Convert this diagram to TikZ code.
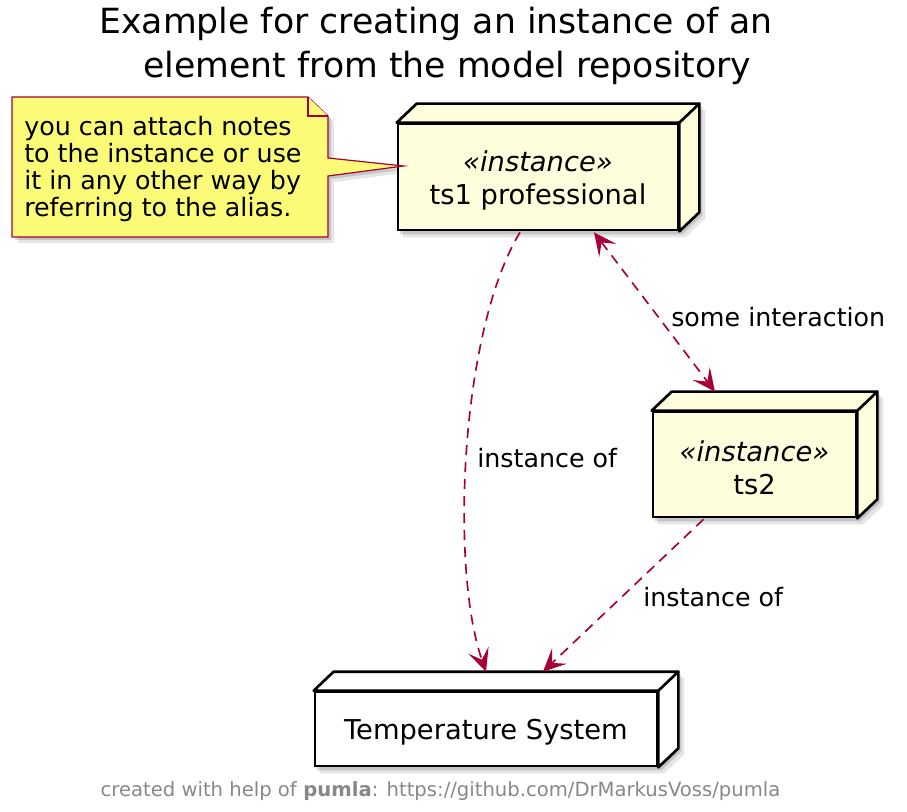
\documentclass[tikz,border=0pt]{standalone}
\usepackage{fontspec}
\setmainfont{DejaVu Sans}
\usetikzlibrary{arrows.meta,calc}
\definecolor{plred}{HTML}{A80036}
\definecolor{notefill}{HTML}{FBFB77}
\definecolor{nodefill}{HTML}{FEFEDC}
\definecolor{footgray}{HTML}{888888}
\pgfdeclarelayer{bg}
\pgfsetlayers{bg,main}
\newcommand\nodeextrude[2]{%
  \filldraw[fill=#2,draw=black,line width=2pt,line join=round]
    (#1.north west) -- ($(#1.north west)+(20,-19)$) -- ($(#1.north east)+(20,-19)$)
    -- ($(#1.south east)+(20,-19)$) -- (#1.south east) -- (#1.north east) -- cycle;
  \draw[line width=2pt,line cap=round] (#1.north east) -- ($(#1.north east)+(20,-19)$);
}
\newcommand\nodeshadow[1]{%
  \foreach \s/\o in {3/0.14,6/0.10}{
  \fill[black,opacity=\o]
    ($(#1.north west)+(\s,\s)$) -- ($(#1.north west)+(20+\s,-19+\s)$) -- ($(#1.north east)+(20+\s,-19+\s)$)
    -- ($(#1.south east)+(20+\s,-19+\s)$) -- ($(#1.south east)+(\s,\s)$) -- ($(#1.south west)+(\s,\s)$) -- cycle;}
}
\begin{document}
\begin{tikzpicture}[x=0.75pt,y=-0.75pt,
  box/.style={draw=black,line width=2pt,inner sep=0pt},
  boxtext/.style={inner sep=0pt,align=center,font=\fontsize{20.5}{24.75}\selectfont},
  conn/.style={draw=plred,line width=1.25pt,dash pattern=on 7.5pt off 5.25pt},
  headtip/.style={-{Stealth[length=17pt,width=16pt,inset=7.5pt]}},
  bothtip/.style={{Stealth[length=17pt,width=16pt,inset=7.5pt]}-{Stealth[length=17pt,width=16pt,inset=7.5pt]}},
  lbl/.style={anchor=west,inner sep=0pt,font=\fontsize{19}{22}\selectfont},
  titlefont/.style={inner sep=0pt,font=\fontsize{26}{33}\selectfont}
]
\useasboundingbox (0,0) rectangle (907,812);

% title
\node[titlefont] (title1) at (436,24) {Example for creating an instance of an};
\node[titlefont] (title2) at (447.5,68) {element from the model repository};

% nodes
\node[box,fill=nodefill,minimum width=210pt,minimum height=79.5pt] (ts1) at (538,177) {};
\node[box,fill=nodefill,minimum width=152.25pt,minimum height=78.75pt] (ts2) at (754.5,464.5) {};
\node[box,fill=white,minimum width=256.5pt,minimum height=55.5pt] (temp) at (486,729) {};
\nodeextrude{ts1}{nodefill}
\nodeextrude{ts2}{nodefill}
\nodeextrude{temp}{white}
\node[boxtext] (ts1text) at ($(ts1.center)+(0,3.5)$) {\textit{«instance»}\\ts1 professional};
\node[boxtext] (ts2text) at ($(ts2.center)+(0,3.5)$) {\textit{«instance»}\\ts2};
\node[boxtext] (temptext) at ($(temp.center)+(0,3.5)$) {Temperature System};

\begin{pgfonlayer}{bg}
  \nodeshadow{ts1}
  \nodeshadow{ts2}
  \nodeshadow{temp}
  \foreach \s/\o in {3/0.14,6/0.10}{
  \fill[black,opacity=\o,shift={(\s,\s)}] (12,97) -- (308,97) -- (328,116) -- (328,158) -- (405,166)
    -- (328,176) -- (328,237) -- (12,237) -- cycle;}
\end{pgfonlayer}

% note
\coordinate (notetip) at ($(ts1.west)+(7,-11)$);
\filldraw[fill=notefill,draw=plred,line width=0.9pt,line join=miter]
  (12,97) -- (308,97) -- (328,116) -- (328,158) -- (notetip) -- (328,176) -- (328,237) -- (12,237) -- cycle;
\draw[plred,line width=0.9pt,fill=notefill] (308,97) -- (308,116) -- (328,116);
\node[anchor=west,inner sep=0pt,align=left,font=\fontsize{19}{20.25}\selectfont] (note) at (24,169)
  {you can attach notes\\to the instance or use\\it in any other way by\\referring to the alias.};

% connectors
\coordinate (e1s) at ($(ts1.south)+(-18,1)$);
\coordinate (e1e) at ($(temp.north)+(0,-19)$);
\draw[conn,headtip] (e1s) .. controls ($(e1s)+(-60,99)$) and ($(e1e)+(-36,-103)$) .. (e1e);
\node[lbl] (l1) at (477,458) {instance of};

\coordinate (e2s) at ($(ts1.south)+(56,1)$);
\coordinate (e2e) at ($(ts2.north)+(-39.5,-19)$);
\draw[conn,bothtip] (e2s) -- (e2e);
\node[lbl] (l2) at (671,317) {some interaction};

\coordinate (e3s) at ($(ts2.south)+(-51,1)$);
\coordinate (e3e) at ($(temp.north)+(57,-19)$);
\draw[conn,headtip] (e3s) -- (e3e);
\node[lbl] (l3) at (643,597) {instance of};

% footer
\node[inner sep=0pt,text=footgray,font=\fontsize{14.7}{17}\selectfont] (footer) at (440.5,791)
  {created with help of \textbf{pumla}: https://github.com/DrMarkusVoss/pumla};
\end{tikzpicture}
\end{document}
